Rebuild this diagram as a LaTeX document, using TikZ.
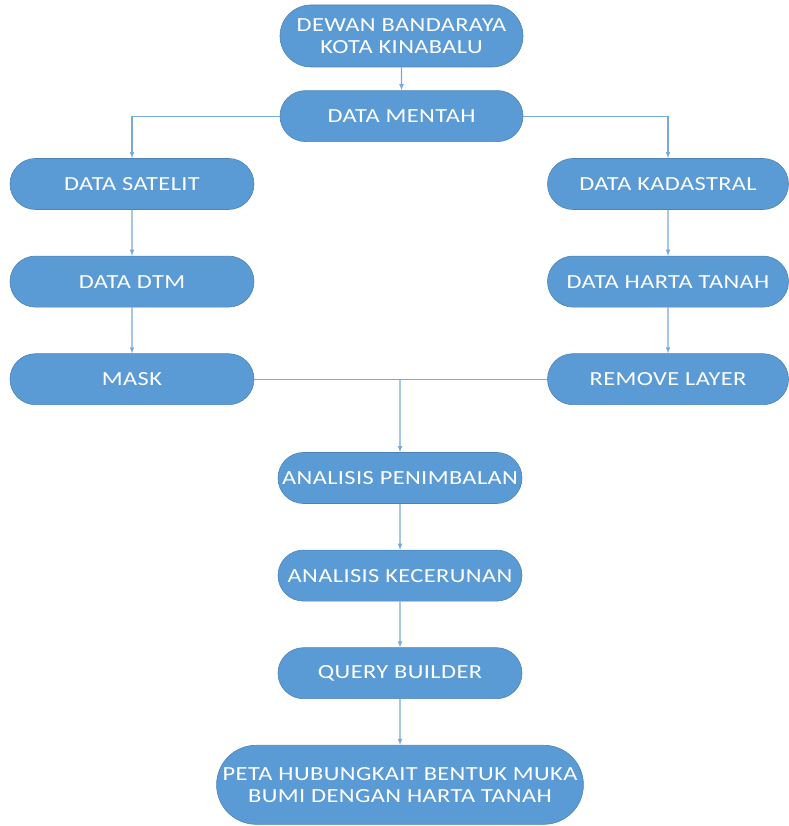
\documentclass[tikz,border=0pt]{standalone}
\usepackage{fontspec}
\setmainfont{Carlito}[FakeStretch=1.22, LetterSpace=2]
\usepackage{xcolor}
\usepackage{tikz}
\usetikzlibrary{shapes,arrows,positioning}

\definecolor{kotakbiru}{HTML}{5B9BD5}
\definecolor{garisbiru}{HTML}{79A8DA}

\begin{document}
\begin{tikzpicture}[x=1pt, y=1pt, >=latex, node distance=46pt,
    blok/.style={rounded rectangle, fill=kotakbiru, draw=kotakbiru!85!black, line width=0.6pt, text=white, align=center, minimum width=247pt, minimum height=51pt, inner sep=2pt, font=\fontsize{20}{22}\selectfont},
    aliran/.style={draw=garisbiru, line width=1.1pt}]
        \useasboundingbox (0,0) rectangle (788,826);

        % Top: source and raw data
        \node[blok, minimum height=62pt] (dbkk) at (401.5,790) {DEWAN BANDARAYA\\KOTA KINABALU};
        \node[blok, below=23pt of dbkk] (mentah) {DATA MENTAH};

        % Left branch (satellite)
        \node[blok, minimum width=248pt] (satelit) at (132,642) {DATA SATELIT};
        \node[blok, minimum width=248pt, below=of satelit] (dtm) {DATA DTM};
        \node[blok, minimum width=248pt, below=of dtm] (mask) {MASK};

        % Right branch (cadastral)
        \node[blok, minimum width=245pt] (kadastral) at (668,642) {DATA KADASTRAL};
        \node[blok, minimum width=245pt, below=of kadastral] (harta) {DATA HARTA TANAH};
        \node[blok, minimum width=245pt, below=of harta] (remove) {REMOVE LAYER};

        % Analysis chain
        \node[blok, minimum width=248pt] (penimbalan) at (400,348) {ANALISIS PENIMBALAN};
        \node[blok, minimum width=248pt, below=of penimbalan] (kecerunan) {ANALISIS KECERUNAN};
        \node[blok, minimum width=248pt, below=of kecerunan] (query) {QUERY BUILDER};
        \node[blok, minimum width=356pt, minimum height=79pt, below=of query] (peta) {PETA HUBUNGKAIT BENTUK MUKA\\BUMI DENGAN HARTA TANAH};

        % Arrows from top
        \draw[aliran, ->] (dbkk) -- (mentah);
        \draw[aliran, ->] (mentah.west) -| (satelit.north);
        \draw[aliran, ->] (mentah.east) -| (kadastral.north);

        % Arrows down the branches
        \draw[aliran, ->] (satelit) -- (dtm);
        \draw[aliran, ->] (dtm) -- (mask);
        \draw[aliran, ->] (kadastral) -- (harta);
        \draw[aliran, ->] (harta) -- (remove);

        % Joining both branches
        \draw[aliran] (mask.east) -- (remove.west);
        \draw[aliran, ->] (penimbalan.north |- mask.east) -- (penimbalan);

        % Arrows through analysis
        \draw[aliran, ->] (penimbalan) -- (kecerunan);
        \draw[aliran, ->] (kecerunan) -- (query);
        \draw[aliran, ->] (query) -- (peta);
    \end{tikzpicture}
\end{document}
